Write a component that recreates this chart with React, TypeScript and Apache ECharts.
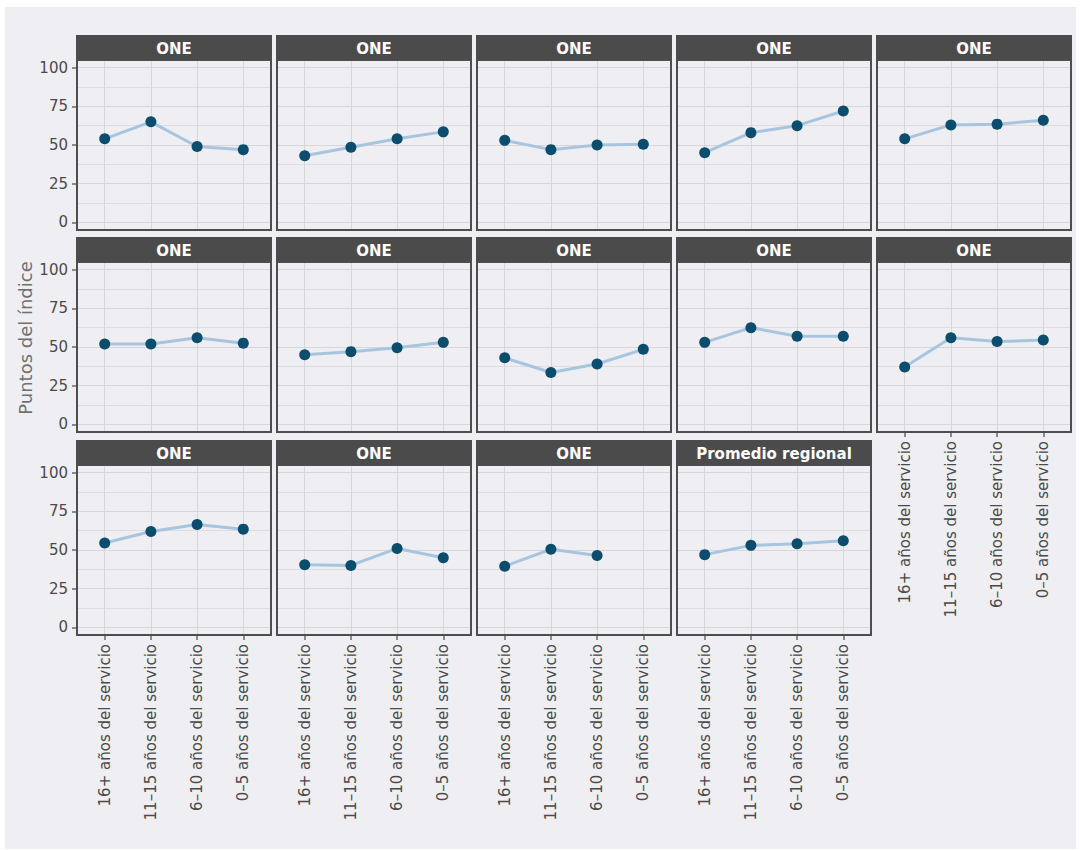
import React, { useEffect, useRef } from "react";
import * as echarts from "echarts";

// Categories on the x axis (years of service)
const categories = [
  "16+ años del servicio",
  "11–15 años del servicio",
  "6–10 años del servicio",
  "0–5 años del servicio",
];

// Facet titles
const panelTitles = [
  "ONE", "ONE", "ONE", "ONE", "ONE",
  "ONE", "ONE", "ONE", "ONE", "ONE",
  "ONE", "ONE", "ONE", "Promedio regional",
];

// Y tick values
const yTicks = [0, 25, 50, 75, 100];
const yMinorTicks = [12.5, 37.5, 62.5, 87.5];

// Index points per panel, in category order
const serie01 = [54, 65, 49, 47];
const serie02 = [43, 48.5, 54, 58.5];
const serie03 = [53, 47, 50, 50.5];
const serie04 = [45, 58, 62.5, 72];
const serie05 = [54, 63, 63.5, 66];
const serie06 = [52, 52, 56, 52.5];
const serie07 = [45, 47, 49.5, 53];
const serie08 = [43, 33.5, 39, 48.5];
const serie09 = [53, 62.5, 57, 57];
const serie10 = [37, 56, 53.5, 54.5];
const serie11 = [54.5, 62, 66.5, 63.5];
const serie12 = [40.5, 40, 51, 45];
const serie13 = [39.5, 50.5, 46.5, null];
const serie14 = [47, 53, 54, 56];

const panelValues: (number | null)[][] = [
  serie01, serie02, serie03, serie04, serie05,
  serie06, serie07, serie08, serie09, serie10,
  serie11, serie12, serie13, serie14,
];

const FONT = "'DejaVu Sans', sans-serif";
const COLS = 5;
const PANEL_LEFT = 77;
const PANEL_STEP_X = 200;
const PANEL_W = 194;
const PANEL_TOPS = [60, 262, 465];
const PANEL_H = 170;
const STRIP_H = 25;

const BG = "#efeff3";
const GRID_LINE = "#d6d6db";
const TICK_COLOR = "#8a8a8a";
const LABEL_COLOR = "#4a4a4a";

function buildOption() {
  const grid: any[] = [];
  const xAxis: any[] = [];
  const yAxis: any[] = [];
  const series: any[] = [];
  const graphic: any[] = [
    {
      type: "rect",
      silent: true,
      z: -10,
      shape: { x: 5, y: 7, width: 1071, height: 842 },
      style: { fill: BG },
    },
    {
      type: "text",
      silent: true,
      x: 25,
      y: 338,
      rotation: Math.PI / 2,
      style: {
        text: "Puntos del índice",
        fontFamily: FONT,
        fontSize: 18,
        fill: "#707070",
        align: "center",
        verticalAlign: "middle",
      },
    },
  ];

  const catIdx = categories.map((_, j) => j);

  panelValues.forEach((vals, i) => {
    const row = Math.floor(i / COLS);
    const col = i % COLS;
    const left = PANEL_LEFT + col * PANEL_STEP_X;
    const top = PANEL_TOPS[row];
    const showX = row === 2 || (row === 1 && col === COLS - 1);
    const showY = col === 0;

    grid.push({
      left,
      top,
      width: PANEL_W,
      height: PANEL_H,
      show: true,
      backgroundColor: "transparent",
      borderColor: "#4e4e4e",
      borderWidth: 2,
      z: 3,
    });

    xAxis.push({
      gridIndex: i,
      type: "value",
      position: "bottom",
      z: 1,
      min: -0.6,
      max: categories.length - 0.4,
      axisLine: { show: false, onZero: false },
      axisTick: {
        show: showX,
        customValues: catIdx,
        length: 5,
        lineStyle: { color: TICK_COLOR, width: 2 },
      },
      axisLabel: {
        show: showX,
        customValues: catIdx,
        rotate: 90,
        margin: 9,
        fontFamily: FONT,
        fontSize: 15,
        color: LABEL_COLOR,
        formatter: (v: number) => categories[Math.round(v)] ?? "",
      },
      splitLine: { show: true, lineStyle: { color: GRID_LINE, width: 1 } },
    });

    // major y axis: ticks, labels, major grid lines
    yAxis.push({
      gridIndex: i,
      type: "value",
      position: "left",
      z: 1,
      min: -5,
      max: 105,
      axisLine: { show: false, onZero: false },
      axisTick: {
        show: showY,
        customValues: yTicks,
        length: 5,
        lineStyle: { color: TICK_COLOR, width: 2 },
      },
      axisLabel: {
        show: showY,
        customValues: yTicks,
        margin: 9,
        fontFamily: FONT,
        fontSize: 15,
        color: LABEL_COLOR,
      },
      splitLine: { show: true, lineStyle: { color: GRID_LINE, width: 1 } },
    });
    // minor y grid lines
    yAxis.push({
      gridIndex: i,
      type: "value",
      position: "right",
      z: 1,
      min: -5,
      max: 105,
      axisLine: { show: false, onZero: false },
      axisTick: { show: false, customValues: yMinorTicks },
      axisLabel: { show: false, customValues: yMinorTicks },
      splitLine: { show: true, lineStyle: { color: "#dcdce1", width: 1 } },
    });

    series.push({
      type: "line",
      xAxisIndex: i,
      yAxisIndex: 2 * i,
      silent: true,
      data: vals
        .map((v, j) => [j, v])
        .filter((p) => p[1] !== null),
      symbol: "circle",
      symbolSize: 11,
      lineStyle: { color: "#a8c5df", width: 3 },
      itemStyle: { color: "#0b4d6d" },
      emphasis: { disabled: true },
      z: 5,
    });

    // facet strip
    graphic.push({
      type: "rect",
      silent: true,
      z: 50,
      shape: { x: left - 1, y: top - STRIP_H, width: PANEL_W + 2, height: STRIP_H },
      style: { fill: "#4b4b4b" },
    });
    graphic.push({
      type: "text",
      silent: true,
      z: 51,
      x: left + PANEL_W / 2,
      y: top - STRIP_H / 2 + 1,
      style: {
        text: panelTitles[i],
        fontFamily: FONT,
        fontSize: 15,
        fontWeight: "bold",
        fill: "#ffffff",
        align: "center",
        verticalAlign: "middle",
      },
    });
  });

  return {
    animation: false,
    backgroundColor: "#ffffff",
    grid,
    xAxis,
    yAxis,
    series,
    graphic,
  };
}

export default function App() {
  const ref = useRef<HTMLDivElement>(null);

  useEffect(() => {
    if (!ref.current) return;
    const chart = echarts.init(ref.current, undefined, { renderer: "svg" });
    chart.setOption(buildOption());
    return () => chart.dispose();
  }, []);

  return (
    <div
      ref={ref}
      style={{ position: "fixed", left: 0, top: 0, width: 1081, height: 850 }}
    />
  );
}
